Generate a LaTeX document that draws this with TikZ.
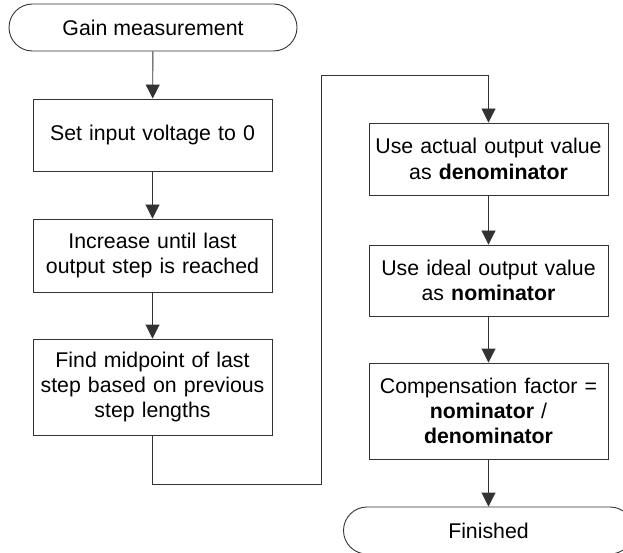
\documentclass[tikz,border=0pt]{standalone}
\usepackage{fontspec}
\setmainfont{Liberation Sans}
\usetikzlibrary{arrows.meta}
\begin{document}
\begin{tikzpicture}[x=1pt,y=-1pt,
  every node/.style={font=\fontsize{21.3}{25.3}\selectfont, align=center, inner sep=0pt},
  procbox/.style={draw=black!80, line width=0.9pt, rectangle, minimum width=239pt, text width=234pt},
  termbox/.style={draw=black!80, line width=0.9pt, rectangle, rounded corners=23.5pt, minimum height=47pt},
  flow/.style={draw=black!80, line width=0.9pt, -{Triangle[width=14pt,length=14pt]}},
  flowline/.style={draw=black!80, line width=0.9pt}]
\useasboundingbox (0,0) rectangle (623,553);
\node[termbox, minimum width=288pt] (start) at (153,27.5) {Gain measurement};
\node[procbox, minimum height=72pt] (b1) at (152.5,135) {Set input voltage to 0};
\node[procbox, minimum height=73pt] (b2) at (152.5,255.5) {Increase until last\\output step is reached};
\node[procbox, minimum height=96pt] (b3) at (152.5,387) {Find midpoint of last\\step based on previous\\step lengths};
\node[procbox, minimum height=72pt] (b4) at (488.5,159) {Use actual output value\\as \textbf{denominator}};
\node[procbox, minimum height=71pt] (b5) at (488.5,280.5) {Use ideal output value\\as \textbf{nominator}};
\node[procbox, minimum height=96pt] (b6) at (488.5,411) {Compensation factor =\\\textbf{nominator} /\\\textbf{denominator}};
\node[termbox, minimum width=290pt] (end) at (488.5,530.5) {Finished};
\coordinate (c1) at (152.5,484);
\coordinate (c2) at (321,484);
\coordinate (c3) at (321,75);
\coordinate (c4) at (488.5,75);
\draw[flow] (start) -- (b1);
\draw[flow] (b1) -- (b2);
\draw[flow] (b2) -- (b3);
\draw[flow] (b3.south) -- (c1) -- (c2) -- (c3) -- (c4) -- (b4.north);
\draw[flow] (b4) -- (b5);
\draw[flow] (b5) -- (b6);
\draw[flow] (b6) -- (end);
\end{tikzpicture}
\end{document}
